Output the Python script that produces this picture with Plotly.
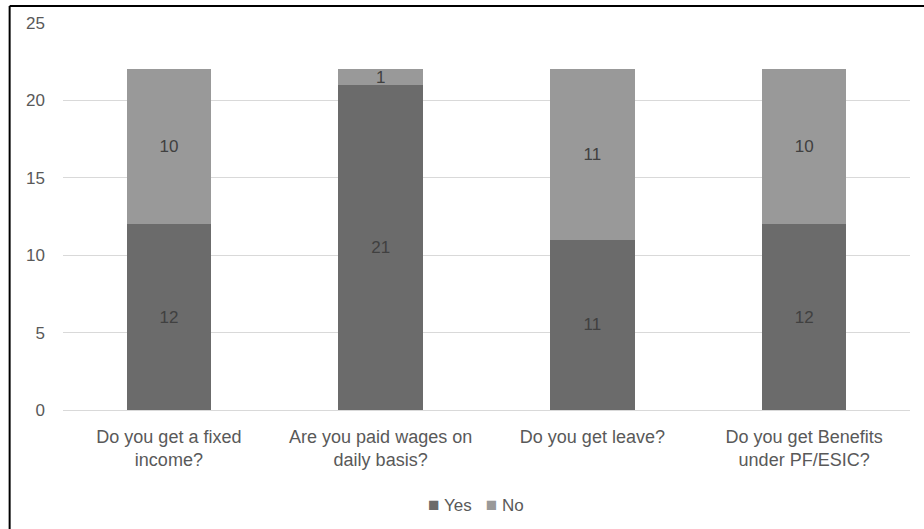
import plotly.graph_objects as go

# Survey responses per question
questions = [
    "Do you get a fixed<br>income?",
    "Are you paid wages on<br>daily basis?",
    "Do you get leave?",
    "Do you get Benefits<br>under PF/ESIC?",
]
yes_counts = [12, 21, 11, 12]
no_counts = [10, 1, 11, 10]

yes_color = "#6b6b6b"
no_color = "#999999"
FONT = "Liberation Sans, Arial, sans-serif"
label_font = dict(family=FONT, size=17, color="#404040")

fig = go.Figure()
fig.add_trace(go.Bar(
    name="Yes", x=questions, y=yes_counts,
    marker=dict(color=yes_color, line=dict(width=0)),
    text=yes_counts, textposition="inside", insidetextanchor="middle", textangle=0,
    textfont=label_font, width=0.4, showlegend=False,
))
fig.add_trace(go.Bar(
    name="No", x=questions, y=no_counts,
    marker=dict(color=no_color, line=dict(width=0)),
    text=no_counts, textposition="inside", insidetextanchor="middle", textangle=0,
    textfont=label_font, width=0.4, showlegend=False,
))

# legend drawn as text with small coloured squares
legend_text = (
    f"<span style='color:{yes_color};font-size:19px'>■</span> Yes&nbsp;&nbsp;&nbsp;"
    f"<span style='color:{no_color};font-size:19px'>■</span> No"
)

fig.update_layout(
    barmode="stack",
    width=924, height=529,
    margin=dict(l=63, r=14, t=23, b=119),
    paper_bgcolor="#ffffff", plot_bgcolor="#ffffff",
    font=dict(family=FONT, size=17, color="#595959"),
    uniformtext=dict(minsize=17, mode="show"),
    yaxis=dict(range=[0, 25], dtick=5, showgrid=True, gridcolor="#d9d9d9", gridwidth=1,
               zeroline=False, showline=False, ticks="", ticklabelstandoff=17,
               tickfont=dict(family=FONT, size=17, color="#595959")),
    xaxis=dict(showline=True, linecolor="#d9d9d9", linewidth=1, ticks="",
               ticklabelstandoff=10,
               tickfont=dict(family=FONT, size=18, color="#595959")),
    annotations=[
        dict(text=legend_text, xref="paper", yref="paper", x=(476 - 63) / 847,
             y=(410 - 504) / 387, xanchor="center", yanchor="middle", showarrow=False,
             font=dict(family=FONT, size=17, color="#595959")),
    ],
    shapes=[
        # chart frame (top and left edges within view)
        dict(type="line", xref="paper", yref="paper", x0=-0.063, x1=1.1, y0=1.044, y1=1.044,
             line=dict(color="#000000", width=2)),
        dict(type="line", xref="paper", yref="paper", x0=-0.063, x1=-0.063, y0=1.044, y1=-0.4,
             line=dict(color="#000000", width=2)),
    ],
)

fig.write_html("out.html")
